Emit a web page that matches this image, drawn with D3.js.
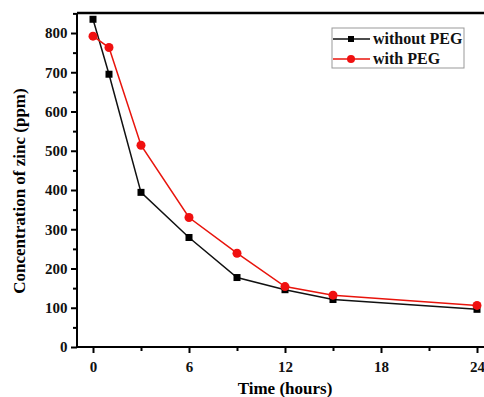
<!DOCTYPE html>
<html>
<head>
<meta charset="utf-8">
<script src="https://cdn.jsdelivr.net/npm/d3@7"></script>
<style>
  body { margin: 0; background: #fff; }
  svg text { font-family: "Liberation Serif", "Times New Roman", serif; font-weight: bold; }
</style>
</head>
<body>
<svg id="chart" width="484" height="397"></svg>
<script>
// time points (hours)
var hours = [0, 1, 3, 6, 9, 12, 15, 24]
// zinc concentration (ppm)
var withoutPEG = [835, 695, 394, 279, 177, 146, 121, 96]
var withPEG = [792, 763, 514, 330, 239, 154, 132, 106]
var xTicks = [0, 6, 12, 18, 24]
var yTicks = [0, 100, 200, 300, 400, 500, 600, 700, 800]
var seriesNames = ['without PEG', 'with PEG']

var margin = {top: 13, right: 0, bottom: 50, left: 77}
var width = 484 - margin.left - margin.right
var height = 397 - margin.top - margin.bottom

var x = d3.scaleLinear().domain([-1, 24]).range([0, 400])
var y = d3.scaleLinear().domain([0, 851]).range([height, 0])

var svg = d3.select('#chart')
  .append('g')
  .attr('transform', 'translate(' + margin.left + ',' + margin.top + ')')

// Add the X Axis
var xAxisG = svg.append('g')
  .attr('transform', 'translate(0,' + height + ')')
xAxisG.call(d3.axisBottom(x).tickValues(d3.range(0, 25, 3)).tickSize(5)
  .tickFormat(function (d) { return xTicks.indexOf(d) >= 0 ? d : '' }))
xAxisG.selectAll('.tick line')
  .attr('y2', function (d) { return xTicks.indexOf(d) >= 0 ? 6 : 4 })
  .attr('stroke-width', 2)
xAxisG.select('.domain').attr('d', 'M0,0H' + (width + 5)).attr('stroke-width', 2)

// Add the Y Axis
var yAxisG = svg.append('g')
yAxisG.call(d3.axisLeft(y).tickValues(d3.range(0, 851, 50)).tickSize(5)
  .tickFormat(function (d) { return yTicks.indexOf(d) >= 0 ? d : '' }))
yAxisG.selectAll('.tick line')
  .attr('x2', function (d) { return yTicks.indexOf(d) >= 0 ? -6 : -4 })
  .attr('stroke-width', 2)
yAxisG.select('.domain').attr('d', 'M0,0V' + height).attr('stroke-width', 2)

svg.selectAll('.tick text')
  .attr('font-family', '"Liberation Serif", serif')
  .attr('font-weight', 'bold')
  .attr('font-size', 15)
  .attr('fill', '#111')
xAxisG.selectAll('.tick text').attr('dy', '1.1em')
yAxisG.selectAll('.tick text').attr('dx', '-0.1em')

// top frame
svg.append('line')
  .attr('x1', 0).attr('x2', width + 5)
  .attr('y1', 0).attr('y2', 0)
  .attr('stroke', '#000').attr('stroke-width', 2.5)

var lineGen = d3.line()
  .x(function (d, i) { return x(hours[i]) })
  .y(function (d) { return y(d) })

// black series
svg.append('path')
  .attr('d', lineGen(withoutPEG))
  .attr('fill', 'none').attr('stroke', '#111').attr('stroke-width', 1.5)
svg.selectAll('.sq')
  .data(withoutPEG)
  .enter().append('rect')
  .attr('x', function (d, i) { return x(hours[i]) - 3.5 })
  .attr('y', function (d) { return y(d) - 3.5 })
  .attr('width', 7).attr('height', 7)
  .attr('fill', '#000')

// red series
svg.append('path')
  .attr('d', lineGen(withPEG))
  .attr('fill', 'none').attr('stroke', '#e8140c').attr('stroke-width', 1.5)
svg.selectAll('.dot')
  .data(withPEG)
  .enter().append('circle')
  .attr('cx', function (d, i) { return x(hours[i]) })
  .attr('cy', function (d) { return y(d) })
  .attr('r', 4.5)
  .attr('fill', '#f01010')

// axis titles
svg.append('text')
  .attr('x', x(12)).attr('y', height + 47)
  .attr('text-anchor', 'middle')
  .attr('font-size', 17)
  .text('Time (hours)')
svg.append('text')
  .attr('transform', 'translate(-52,' + (height / 2 + 11) + ') rotate(-90)')
  .attr('text-anchor', 'middle')
  .attr('font-size', 17)
  .text('Concentration of zinc (ppm)')

// legend
var legend = svg.append('g').attr('transform', 'translate(255,15)')
legend.append('rect')
  .attr('width', 132).attr('height', 40)
  .attr('fill', '#fff').attr('stroke', '#999').attr('stroke-width', 1)
var colors = ['#111', '#e8140c']
seriesNames.forEach(function (name, i) {
  var g = legend.append('g').attr('transform', 'translate(0,' + (11 + i * 20) + ')')
  g.append('line').attr('x1', 1).attr('x2', 38).attr('y1', 0).attr('y2', 0)
    .attr('stroke', colors[i]).attr('stroke-width', 1.5)
  if (i === 0) {
    g.append('rect').attr('x', 16).attr('y', -3).attr('width', 6).attr('height', 6).attr('fill', '#000')
  } else {
    g.append('circle').attr('cx', 19).attr('cy', 0).attr('r', 4).attr('fill', '#f01010')
  }
  g.append('text').attr('x', 41).attr('y', 5).attr('font-size', 16).attr('fill', '#111').text(name)
})
</script>
</body>
</html>
